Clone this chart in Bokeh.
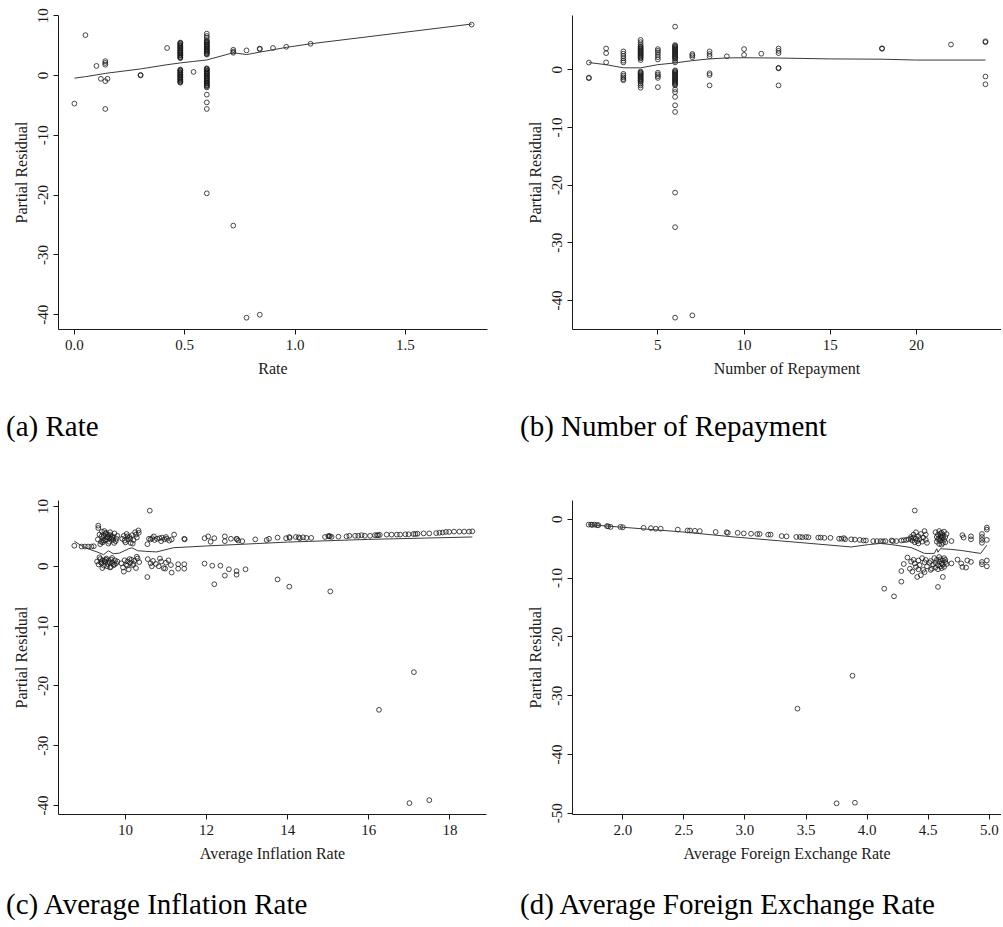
from bokeh.plotting import figure
from bokeh.layouts import column, row
from bokeh.models import Range1d, FixedTicker
from bokeh.core.properties import value
from bokeh.embed import file_html
from bokeh.resources import INLINE

# ---------------- (a) Rate ----------------
rate_pts = [
    (0.00, -4.7), (0.05, 6.75), (0.10, 1.6), (0.12, -0.55), (0.14, -0.95), (0.15, -0.55),
    (0.14, 2.4), (0.14, 2.1), (0.14, 1.8), (0.14, -5.6), (0.30, 0.1), (0.30, 0.0),
    (0.42, 4.6), (0.54, 0.6),
    (0.48, 5.5), (0.48, 5.3), (0.48, 5.1), (0.48, 4.9), (0.48, 4.7), (0.48, 4.5), (0.48, 4.3),
    (0.48, 4.1), (0.48, 3.9), (0.48, 3.7), (0.48, 3.5), (0.48, 3.3), (0.48, 3.1), (0.48, 2.9),
    (0.48, 5.4), (0.48, 5.0), (0.48, 4.6), (0.48, 4.2), (0.48, 3.8), (0.48, 3.4), (0.48, 3.0),
    (0.48, 1.0), (0.48, 0.8), (0.48, 0.6), (0.48, 0.4), (0.48, 0.2), (0.48, 0.0), (0.48, -0.2),
    (0.48, -0.4), (0.48, -0.6), (0.48, -0.8), (0.48, -1.0), (0.48, -1.2),
    (0.48, 0.9), (0.48, 0.5), (0.48, 0.1), (0.48, -0.3), (0.48, -0.7), (0.48, -1.1),
    (0.60, 7.0), (0.60, 6.6), (0.60, 6.3), (0.60, 5.9), (0.60, 5.7), (0.60, 5.5), (0.60, 5.3),
    (0.60, 5.1), (0.60, 4.9), (0.60, 4.7), (0.60, 4.5), (0.60, 4.3), (0.60, 4.1), (0.60, 3.9),
    (0.60, 3.7), (0.60, 3.5), (0.60, 5.6), (0.60, 5.2), (0.60, 4.8), (0.60, 4.4), (0.60, 4.0),
    (0.60, 3.6),
    (0.60, 1.2), (0.60, 1.0), (0.60, 0.8), (0.60, 0.6), (0.60, 0.4), (0.60, 0.2), (0.60, 0.0),
    (0.60, -0.2), (0.60, -0.4), (0.60, -0.6), (0.60, -0.8), (0.60, -1.0), (0.60, -1.2),
    (0.60, -1.4), (0.60, -1.6), (0.60, -1.8), (0.60, -2.0), (0.60, 1.1), (0.60, 0.7),
    (0.60, 0.3), (0.60, -0.1), (0.60, -0.5), (0.60, -0.9), (0.60, -1.3), (0.60, -1.7),
    (0.60, -3.2), (0.60, -4.5), (0.60, -5.6), (0.60, -19.7),
    (0.72, 4.3), (0.72, 4.0), (0.72, 3.8), (0.72, -25.1),
    (0.78, 4.2), (0.78, -40.5),
    (0.84, 4.5), (0.84, 4.4), (0.84, -40.0),
    (0.90, 4.6), (0.96, 4.8), (1.07, 5.3), (1.80, 8.5),
]
rate_fit_x = [0.0, 0.05, 0.10, 0.14, 0.30, 0.42, 0.48, 0.54, 0.60, 0.66, 0.72, 0.78, 0.84, 0.90, 0.96, 1.07, 1.80]
rate_fit_y = [-0.45, -0.2, 0.1, 0.35, 1.1, 1.8, 2.1, 2.35, 2.6, 3.2, 3.8, 3.5, 3.9, 4.3, 4.7, 5.3, 8.6]

# ---------------- (b) Number of Repayment ----------------
repay_pts = [
    (1, 1.26), (1, -1.35), (1, -1.45),
    (2, 3.7), (2, 2.9), (2, 1.3),
    (3, 3.2), (3, 2.8), (3, 2.4), (3, 2.0), (3, 1.6), (3, 1.3),
    (3, -0.7), (3, -1.0), (3, -1.3), (3, -1.6), (3, -1.8),
    (4, 5.2), (4, 4.8), (4, 4.4), (4, 4.1), (4, 3.8), (4, 3.5), (4, 3.2), (4, 2.9), (4, 2.6),
    (4, 2.3), (4, 2.0), (4, 1.7), (4, 3.95), (4, 3.65), (4, 3.35), (4, 3.05), (4, 2.75),
    (4, 2.45), (4, 2.15),
    (4, -0.3), (4, -0.6), (4, -0.9), (4, -1.2), (4, -1.5), (4, -1.8), (4, -2.1), (4, -2.4),
    (4, -2.7), (4, -3.1), (4, -0.45), (4, -0.75), (4, -1.05), (4, -1.35), (4, -1.65),
    (4, -1.95),
    (5, 3.6), (5, 3.3), (5, 3.0), (5, 2.6), (5, 2.2), (5, 1.8),
    (5, -0.5), (5, -0.8), (5, -1.1), (5, -1.4), (5, -3.0),
    (6, 7.5), (6, 4.3), (6, 4.0), (6, 3.7), (6, 3.4), (6, 3.1), (6, 2.8), (6, 2.5), (6, 2.2),
    (6, 1.9), (6, 1.6), (6, 1.3), (6, 4.15), (6, 3.85), (6, 3.55), (6, 3.25), (6, 2.95),
    (6, 2.65), (6, 2.35), (6, 2.05),
    (6, -0.1), (6, -0.4), (6, -0.7), (6, -1.0), (6, -1.3), (6, -1.6), (6, -1.9), (6, -2.2),
    (6, -2.5), (6, -2.7), (6, -0.25), (6, -0.55), (6, -0.85), (6, -1.15), (6, -1.45),
    (6, -1.75), (6, -2.05), (6, -2.35),
    (6, -3.4), (6, -3.85), (6, -4.7), (6, -6.15), (6, -7.3),
    (6, -21.3), (6, -27.3), (6, -43.0),
    (7, 2.75), (7, 2.5), (7, 2.2), (7, -42.6),
    (8, 3.2), (8, 2.75), (8, 2.35), (8, -0.6), (8, -0.9), (8, -2.7),
    (9, 2.35), (10, 3.6), (10, 2.6), (11, 2.8),
    (12, 3.7), (12, 3.3), (12, 2.9), (12, 0.35), (12, 0.25), (12, -2.7),
    (18, 3.75), (18, 3.65), (22, 4.4),
    (24, 4.95), (24, 4.8), (24, -1.15), (24, -2.5),
]
repay_fit_x = [1, 2, 3, 4, 5, 6, 7, 8, 9, 10, 12, 15, 18, 20, 24]
repay_fit_y = [1.26, 0.9, 0.35, 0.35, 0.9, 1.2, 1.6, 1.9, 2.07, 2.1, 2.05, 1.9, 1.85, 1.7, 1.7]

# ---------------- (c) Average Inflation Rate ----------------
infl_pts = [
    (8.74, 3.44), (8.92, 3.3), (9.00, 3.3), (9.08, 3.3), (9.16, 3.3), (9.22, 3.35),
    (9.33, 6.8), (9.33, 6.4),
    (9.32, 4.5), (9.36, 5.3), (9.40, 4.1), (9.42, 5.8), (9.45, 4.7), (9.47, 5.1), (9.50, 4.3),
    (9.52, 5.6), (9.55, 4.9), (9.57, 5.3), (9.60, 4.1), (9.62, 5.7), (9.65, 4.6), (9.68, 5.0),
    (9.70, 4.4), (9.73, 5.5), (9.76, 4.2), (9.80, 5.1), (9.38, 3.7), (9.44, 4.0), (9.48, 5.9),
    (9.53, 4.5), (9.58, 3.8), (9.63, 5.2), (9.67, 4.8), (9.72, 3.9), (9.78, 4.6), (9.41, 5.0),
    (9.46, 4.3), (9.51, 5.4), (9.56, 4.9), (9.61, 4.7),
    (9.30, 0.8), (9.34, 0.3), (9.38, 1.2), (9.41, 0.5), (9.44, 1.0), (9.47, 0.1), (9.50, 0.7),
    (9.53, 1.3), (9.56, 0.4), (9.59, 0.9), (9.62, -0.2), (9.65, 1.1), (9.68, 0.6), (9.71, 0.2),
    (9.74, 1.0), (9.77, 0.5), (9.80, 0.8), (9.36, 1.5), (9.43, -0.3), (9.49, 0.9), (9.55, 0.0),
    (9.61, 0.6), (9.67, 1.4), (9.73, 0.3), (9.40, 0.7), (9.52, 1.1), (9.64, -0.1),
    (9.92, 4.6), (9.96, 5.1), (10.00, 4.0), (10.03, 5.4), (10.06, 4.5), (10.10, 4.9),
    (10.13, 3.9), (10.16, 5.2), (10.20, 4.4), (10.24, 5.7), (10.28, 4.8), (10.32, 6.0),
    (9.98, 4.3), (10.05, 5.0), (10.12, 4.6), (10.18, 3.8), (10.26, 5.3), (10.33, 5.6),
    (9.90, 0.5), (9.94, -0.2), (9.98, 1.0), (10.02, 0.3), (10.05, 0.8), (10.08, -0.5),
    (10.12, 0.6), (10.15, 1.1), (10.18, 0.2), (10.22, 0.9), (10.26, -0.3), (10.30, 1.3),
    (10.34, 0.7), (9.96, -0.9), (10.04, 0.1), (10.10, 1.2), (10.20, 0.4), (10.28, 1.6),
    (10.60, 9.3), (10.54, 3.7), (10.54, -1.8),
    (10.58, 4.6), (10.62, 4.5), (10.66, 4.7), (10.72, 4.4), (10.78, 4.6), (10.84, 4.7),
    (10.90, 4.8), (10.96, 4.5), (11.02, 4.6), (11.08, 4.3), (11.14, 4.5), (10.70, 5.0),
    (10.88, 4.2), (11.00, 4.9),
    (10.55, 1.2), (10.62, 0.5), (10.68, 0.9), (10.75, 0.4), (10.82, 0.0), (10.88, 0.8),
    (10.94, -0.3), (11.00, 0.6), (11.06, 1.0), (11.12, 0.2), (10.65, 0.0), (10.85, 1.3),
    (10.98, -0.4), (11.14, -1.05),
    (11.20, 5.3), (11.30, 0.35), (11.45, 0.35), (11.30, -0.4), (11.45, -0.4), (11.45, 4.6),
    (11.46, 4.5),
    (11.95, 0.45), (11.95, 4.7), (12.04, 5.0), (12.10, 4.1), (12.19, 4.7), (12.14, 0.1),
    (12.19, -3.0), (12.34, 0.1), (12.45, 5.0), (12.45, 4.2), (12.45, -1.55), (12.55, -0.5),
    (12.60, 4.6), (12.74, 4.6), (12.75, 4.55), (12.78, 4.3), (12.74, -0.8), (12.74, -1.4),
    (12.88, 4.2), (12.96, -0.5), (13.20, 4.5), (13.48, 4.4), (13.54, 4.6), (13.75, 4.8),
    (13.75, -2.2), (13.96, 4.7), (14.04, 4.9), (14.05, 4.75), (14.04, -3.4), (14.20, 4.9),
    (14.27, 4.85), (14.30, 4.7), (14.38, 4.85), (14.46, 4.75), (14.58, 4.75),
    (14.92, 4.9), (15.00, 5.05), (15.02, 5.0), (15.04, 5.05), (15.08, 4.9), (15.25, 4.95),
    (15.05, -4.2),
    (15.45, 5.0), (15.52, 5.1), (15.66, 5.1), (15.74, 5.1), (15.82, 5.2), (15.90, 5.1),
    (16.03, 5.1), (16.15, 5.2), (16.20, 5.2), (16.23, 5.2), (16.27, 5.25),
    (16.44, 5.3), (16.56, 5.3), (16.69, 5.3), (16.77, 5.3), (16.90, 5.35), (16.98, 5.35),
    (17.10, 5.4), (17.15, 5.4), (17.20, 5.45), (17.35, 5.5), (17.49, 5.5), (17.66, 5.55),
    (17.74, 5.6), (17.82, 5.65), (17.90, 5.75), (17.98, 5.75), (18.10, 5.8), (18.23, 5.8),
    (18.35, 5.8), (18.47, 5.8), (18.55, 5.85),
    (16.25, -24.0), (17.11, -17.7), (17.00, -39.6), (17.49, -39.1),
]
infl_fit_x = [8.74, 8.95, 9.17, 9.30, 9.46, 9.58, 9.70, 9.85, 10.07, 10.16, 10.30, 10.50, 10.77, 11.18, 12.0, 13.24, 14.0, 16.0, 18.55]
infl_fit_y = [4.2, 3.3, 2.7, 2.4, 1.95, 2.6, 2.1, 2.2, 2.9, 3.1, 2.6, 2.5, 2.4, 3.1, 3.4, 3.8, 4.05, 4.5, 4.9]

# ---------------- (d) Average Foreign Exchange Rate ----------------
fx_pts = [
    (1.72, -0.9), (1.74, -0.9), (1.75, -0.95), (1.77, -0.9), (1.79, -1.0), (1.80, -1.0),
    (1.87, -1.15), (1.88, -1.2), (1.90, -1.3), (1.98, -1.3), (2.00, -1.35), (2.17, -1.45),
    (2.23, -1.5), (2.27, -1.6), (2.31, -1.6), (2.45, -1.75), (2.53, -1.9), (2.55, -1.9),
    (2.59, -1.95), (2.63, -2.0), (2.76, -2.15), (2.85, -2.2), (2.86, -2.3), (2.94, -2.3),
    (2.99, -2.4), (3.05, -2.45), (3.10, -2.5), (3.12, -2.5), (3.19, -2.6), (3.21, -2.6),
    (3.30, -2.85), (3.34, -2.9), (3.42, -3.0), (3.45, -3.0), (3.47, -3.05), (3.50, -3.0),
    (3.52, -3.05), (3.60, -3.1), (3.62, -3.1), (3.65, -3.15), (3.70, -3.15), (3.77, -3.3),
    (3.79, -3.3), (3.81, -3.2), (3.82, -3.4), (3.87, -3.4), (3.90, -3.45), (3.94, -3.5),
    (3.97, -3.6), (3.99, -3.6), (4.05, -3.7), (4.08, -3.7), (4.11, -3.7), (4.13, -3.75),
    (4.15, -3.7), (4.20, -3.6), (4.21, -3.7), (4.24, -3.7), (4.28, -3.6), (4.30, -3.55),
    (4.32, -3.5), (4.34, -3.4), (4.36, -3.3), (4.38, -3.1),
    (4.36, -3.0), (4.37, -3.6), (4.38, -2.6), (4.39, -3.9), (4.40, -3.3), (4.40, -2.2),
    (4.41, -3.7), (4.42, -2.9), (4.42, -4.1), (4.43, -3.4), (4.44, -2.5), (4.45, -3.8),
    (4.46, -3.1), (4.47, -2.0), (4.48, -2.6), (4.48, -3.5), (4.49, -4.0), (4.39, 1.5),
    (4.33, -6.5), (4.30, -7.6), (4.28, -8.8), (4.28, -10.6), (4.14, -11.8), (4.22, -13.1),
    (4.35, -8.4), (4.36, -7.2), (4.38, -6.9), (4.39, -7.5), (4.40, -8.1), (4.41, -9.8),
    (4.42, -7.0), (4.43, -7.8), (4.44, -9.5), (4.45, -6.6), (4.46, -8.6), (4.47, -7.3),
    (4.48, -6.9), (4.49, -8.0), (4.37, -8.9), (4.42, -8.5), (4.47, -9.0),
    (4.56, -2.2), (4.57, -3.0), (4.57, -3.8), (4.58, -2.6), (4.58, -3.4), (4.59, -4.2),
    (4.59, -2.0), (4.60, -2.9), (4.60, -3.6), (4.61, -2.3), (4.61, -3.2), (4.62, -4.0),
    (4.62, -2.7), (4.63, -3.5), (4.63, -2.1), (4.64, -3.0), (4.64, -3.9), (4.65, -2.5),
    (4.59, -3.3), (4.61, -4.3), (4.60, -2.4), (4.62, -3.1),
    (4.55, -6.6), (4.56, -7.4), (4.56, -8.2), (4.57, -6.9), (4.58, -7.8), (4.58, -8.5),
    (4.59, -6.4), (4.59, -7.2), (4.60, -8.0), (4.60, -6.8), (4.61, -7.5), (4.61, -8.3),
    (4.62, -7.0), (4.62, -7.7), (4.63, -6.6), (4.63, -8.1), (4.64, -7.3), (4.64, -6.9),
    (4.65, -7.6), (4.58, -11.5), (4.62, -9.8), (4.52, -7.1), (4.53, -8.4), (4.54, -7.7),
    (4.52, -8.6), (4.51, -7.4),
    (4.69, -3.7), (4.69, -7.5), (4.78, -2.7), (4.79, -3.1), (4.74, -6.85), (4.77, -7.5),
    (4.78, -8.1), (4.81, -8.2), (4.85, -2.9), (4.85, -3.4), (4.82, -7.0), (4.85, -7.25),
    (4.94, -2.5), (4.94, -3.0), (4.94, -3.5), (4.94, -4.0), (4.94, -7.25), (4.94, -7.65),
    (4.98, -1.4), (4.98, -1.75), (4.98, -3.5), (4.98, -7.0), (4.98, -8.0),
    (3.43, -32.2), (3.88, -26.6), (3.75, -48.3), (3.90, -48.2),
]
fx_fit_x = [1.72, 2.49, 2.91, 3.45, 3.87, 4.01, 4.11, 4.20, 4.36, 4.47, 4.55, 4.57, 4.58, 4.60, 4.68, 4.77, 4.93, 4.98]
fx_fit_y = [-0.9, -2.15, -3.0, -3.95, -4.7, -4.3, -4.1, -4.3, -4.8, -5.8, -5.8, -5.0, -5.6, -5.0, -5.1, -5.3, -5.8, -4.4]

# tick positions / labels
rate_xticks = [0.0, 0.5, 1.0, 1.5]
rate_xlabels = ["0.0", "0.5", "1.0", "1.5"]
rate_yticks = [-40, -30, -20, -10, 0, 10]
repay_xticks = [5, 10, 15, 20]
repay_xlabels = ["5", "10", "15", "20"]
repay_yticks = [-40, -30, -20, -10, 0]
infl_xticks = [10, 12, 14, 16, 18]
infl_xlabels = ["10", "12", "14", "16", "18"]
infl_yticks = [-40, -30, -20, -10, 0, 10]
fx_xticks = [2.0, 2.5, 3.0, 3.5, 4.0, 4.5, 5.0]
fx_xlabels = ["2.0", "2.5", "3.0", "3.5", "4.0", "4.5", "5.0"]
fx_yticks = [-50, -40, -30, -20, -10, 0]

captions = ["(a) Rate", "(b) Number of Repayment",
            "(c) Average Inflation Rate", "(d) Average Foreign Exchange Rate"]

SERIF = "Liberation Serif"
INK = "#1a1a1a"


def panel(pts, fit_x, fit_y, xr, yr, xticks, xlabels, yticks, xlabel,
          fw, fh, left, top, right, height):
    width = left + fw + right
    p = figure(width=width, height=height, x_range=Range1d(*xr), y_range=Range1d(*yr),
               output_backend="svg", toolbar_location=None, title=None,
               min_border_left=left, min_border_right=right, min_border_top=top,
               min_border_bottom=height - top - fh)
    p.grid.visible = False
    p.outline_line_color = None
    p.background_fill_color = "white"
    p.border_fill_color = "white"

    xs = [a for a, b in pts]
    ys = [b for a, b in pts]
    p.scatter(xs, ys, marker="circle", size=4.8, fill_color=None,
              line_color=INK, line_width=0.8)
    p.line(fit_x, fit_y, line_color="#3a3a3a", line_width=1)

    p.xaxis.ticker = FixedTicker(ticks=xticks)
    p.yaxis.ticker = FixedTicker(ticks=yticks)
    p.xaxis.major_label_overrides = {t: s for t, s in zip(xticks, xlabels)}
    p.yaxis.major_label_overrides = {t: str(t) for t in yticks}
    p.xaxis.axis_label = xlabel
    p.yaxis.axis_label = "Partial Residual"
    p.yaxis.major_label_orientation = "vertical"
    for ax in (p.xaxis[0], p.yaxis[0]):
        ax.axis_line_color = INK
        ax.axis_line_width = 1
        ax.major_tick_line_color = INK
        ax.major_tick_out = 5
        ax.major_tick_in = 0
        ax.minor_tick_line_color = None
        ax.major_label_text_font = SERIF
        ax.major_label_text_font_size = "15px"
        ax.major_label_text_color = INK
        ax.axis_label_text_font = SERIF
        ax.axis_label_text_font_size = "16px"
        ax.axis_label_text_font_style = "normal"
        ax.axis_label_text_color = INK
    p.xaxis.major_label_standoff = 5
    p.xaxis.axis_label_standoff = 7
    p.yaxis.major_label_standoff = 5
    p.yaxis.axis_label_standoff = 6
    return p


def caption_strip(text, width, height, text_x, text_y):
    c = figure(width=width, height=height, x_range=Range1d(0, width), y_range=Range1d(0, height),
               output_backend="svg", toolbar_location=None, title=None,
               x_axis_type=None, y_axis_type=None, min_border=0)
    c.outline_line_color = None
    c.grid.visible = False
    c.text(x=[text_x], y=[text_y], text=[text], text_font=value(SERIF),
           text_font_size=value("29px"), text_baseline="middle", text_align="left",
           text_color="black")
    return c


pa = panel(rate_pts, rate_fit_x, rate_fit_y, (-0.072, 1.872), (-42.47, 10.03),
           rate_xticks, rate_xlabels, rate_yticks, "Rate",
           fw=429, fh=314, left=58, top=15, right=8, height=395)
pb = panel(repay_pts, repay_fit_x, repay_fit_y, (0.05, 24.93), (-45.05, 9.43),
           repay_xticks, repay_xlabels, repay_yticks, "Number of Repayment",
           fw=429, fh=316, left=77, top=13, right=0, height=395)
pc = panel(infl_pts, infl_fit_x, infl_fit_y, (8.35, 18.9), (-41.5, 11.0),
           infl_xticks, infl_xlabels, infl_yticks, "Average Inflation Rate",
           fw=428, fh=315, left=58, top=45, right=9, height=425)
pd_ = panel(fx_pts, fx_fit_x, fx_fit_y, (1.588, 5.10), (-50.2, 3.2),
            fx_xticks, fx_xlabels, fx_yticks, "Average Foreign Exchange Rate",
            fw=429, fh=314, left=77, top=45, right=0, height=425)

ca = caption_strip(captions[0], 495, 60, 5.5, 30)
cb = caption_strip(captions[1], 506, 60, 24.5, 30)
cc = caption_strip(captions[2], 495, 46, 5.5, 23)
cd = caption_strip(captions[3], 506, 46, 24.5, 23)

layout = column(row(pa, pb), row(ca, cb), row(pc, pd_), row(cc, cd))
open("out.html", "w").write(file_html(layout, INLINE))
